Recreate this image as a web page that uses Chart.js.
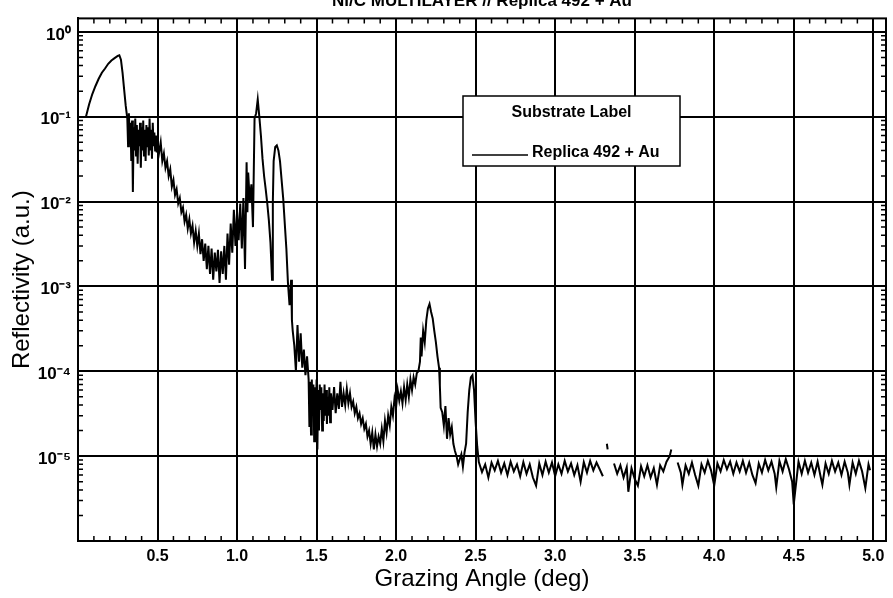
<!DOCTYPE html>
<html>
<head>
<meta charset="utf-8">
<title>Ni/C multilayer reflectivity</title>
<script src="https://cdn.jsdelivr.net/npm/chart.js@4.4.0/dist/chart.umd.min.js"></script>
<style>
  html, body { margin: 0; padding: 0; background: #fff; overflow: hidden; }
  #wrap { position: absolute; left: 0; top: -12px; width: 893px; height: 610px; }
</style>
</head>
<body>
<div id="wrap"><canvas id="chart"></canvas></div>
<script>
// Judul dan label
const chartTitle = 'Ni/C MULTILAYER // Replica 492 + Au';
const seriesLabel = 'Replica 492 + Au';
const legendTitle = 'Substrate Label';
const xTitle = 'Grazing Angle (deg)';
const yTitle = 'Reflectivity (a.u.)';

// Sumbu
const xTicks = [0.5, 1.0, 1.5, 2.0, 2.5, 3.0, 3.5, 4.0, 4.5, 5.0];
const xTickLabels = ['0.5', '1.0', '1.5', '2.0', '2.5', '3.0', '3.5', '4.0', '4.5', '5.0'];
const yTicks = [1e-6, 1e-5, 1e-4, 1e-3, 1e-2, 1e-1, 1];
const yTickLabels = ['', '10⁻⁵', '10⁻⁴', '10⁻³', '10⁻²', '10⁻¹', '10⁰'];

// Sudut (deg)
const angle = [
  // naik sampai sudut kritis
  0.05, 0.07, 0.09, 0.11, 0.13, 0.15, 0.17, 0.19, 0.21, 0.23,
  0.25, 0.26, 0.27, 0.28, 0.29, 0.30, 0.31,
  // dataran berisik
  0.315, 0.32, 0.325, 0.33, 0.335, 0.34, 0.345, 0.35, 0.355, 0.36,
  0.365, 0.37, 0.375, 0.38, 0.385, 0.39, 0.395, 0.40, 0.405, 0.41,
  0.415, 0.42, 0.425, 0.43, 0.435, 0.44, 0.445, 0.45, 0.455, 0.46,
  0.465, 0.47, 0.475, 0.48, 0.485, 0.49, 0.495,
  // turun ke minimum
  0.50, 0.51, 0.52, 0.53, 0.54, 0.55, 0.56, 0.57, 0.58, 0.59,
  0.60, 0.61, 0.62, 0.63, 0.64, 0.65, 0.66, 0.67, 0.68, 0.69,
  0.70, 0.71, 0.72, 0.73, 0.74, 0.75, 0.76, 0.77, 0.78, 0.79,
  0.80, 0.81, 0.82, 0.83, 0.84, 0.85, 0.86, 0.87, 0.88, 0.89,
  0.90, 0.91, 0.92, 0.93, 0.94, 0.95, 0.96, 0.97, 0.98, 0.99,
  1.00, 1.01, 1.02, 1.03, 1.04, 1.05,
  // puncak Bragg 1 dan 2
  1.06, 1.065, 1.07, 1.08, 1.09, 1.10, 1.11, 1.12, 1.13,
  1.14, 1.15, 1.16, 1.17, 1.18, 1.19, 1.20, 1.21, 1.22, 1.225,
  1.23, 1.24, 1.25, 1.26, 1.27, 1.28, 1.29, 1.30, 1.31, 1.32,
  // ekor
  1.33, 1.34, 1.345, 1.35, 1.36, 1.37, 1.38, 1.39, 1.40, 1.41,
  1.42, 1.43, 1.44, 1.45,
  // blok berisik
  1.455, 1.46, 1.465, 1.47, 1.475, 1.48, 1.485, 1.49, 1.495, 1.50,
  1.505, 1.51, 1.515, 1.52, 1.525, 1.53, 1.535, 1.54, 1.545, 1.55,
  1.555, 1.56, 1.565, 1.57, 1.575, 1.58, 1.585, 1.59,
  1.60, 1.61, 1.62, 1.63, 1.64, 1.65, 1.66, 1.67, 1.68, 1.69,
  1.70, 1.71, 1.72, 1.73, 1.74, 1.75, 1.76, 1.77, 1.78, 1.79,
  1.80, 1.81, 1.82, 1.83, 1.84, 1.85, 1.86, 1.87, 1.88, 1.89,
  1.90, 1.91, 1.92, 1.93, 1.94, 1.95, 1.96, 1.97, 1.98, 1.99,
  2.00, 2.01, 2.02, 2.03, 2.04, 2.05, 2.06, 2.07, 2.08, 2.09,
  2.10, 2.11, 2.12, 2.13, 2.14,
  // puncak 3 dan 4
  2.15, 2.155, 2.16, 2.17, 2.18, 2.19, 2.20, 2.21, 2.22, 2.23,
  2.24, 2.25, 2.26, 2.27, 2.275, 2.28, 2.29, 2.30, 2.31, 2.32,
  2.33, 2.34, 2.35, 2.36, 2.37, 2.38, 2.39, 2.40, 2.41, 2.42,
  2.43, 2.44, 2.45, 2.46, 2.47, 2.48, 2.49, 2.50, 2.51,
  // dasar (noise floor)
  2.52, 2.54, 2.56, 2.58, 2.60, 2.62, 2.64, 2.66, 2.68, 2.70,
  2.72, 2.74, 2.76, 2.78, 2.80, 2.82, 2.84, 2.86, 2.88, 2.90,
  2.92, 2.94, 2.96, 2.98, 3.00, 3.02, 3.04, 3.06, 3.08, 3.10,
  3.12, 3.14, 3.16, 3.18, 3.20, 3.22, 3.24, 3.26, 3.28, 3.30,
  3.31, 3.325, 3.33, 3.35, 3.37, 3.39, 3.41, 3.43, 3.45, 3.46,
  3.48, 3.50, 3.52, 3.54, 3.56, 3.58, 3.60, 3.62, 3.64, 3.66,
  3.68, 3.70, 3.72, 3.73, 3.745, 3.77, 3.79, 3.80, 3.82, 3.84,
  3.86, 3.88, 3.90, 3.92, 3.94, 3.96, 3.98, 4.00, 4.02, 4.04,
  4.06, 4.08, 4.10, 4.12, 4.14, 4.16, 4.18, 4.20, 4.22, 4.24,
  4.26, 4.28, 4.30, 4.32, 4.34, 4.36, 4.38, 4.39, 4.41, 4.43,
  4.45, 4.47, 4.49, 4.50, 4.51, 4.53, 4.55, 4.57, 4.59, 4.61,
  4.63, 4.65, 4.67, 4.68, 4.70, 4.72, 4.74, 4.76, 4.78, 4.80,
  4.82, 4.84, 4.85, 4.87, 4.89, 4.91, 4.93, 4.95, 4.97, 4.98
];

// Reflektivitas (a.u.), null = putus
const reflectivity = [
  0.10, 0.14, 0.185, 0.23, 0.28, 0.33, 0.37, 0.42, 0.46, 0.49,
  0.52, 0.53, 0.47, 0.33, 0.21, 0.135, 0.095,

  0.045, 0.11, 0.05, 0.085, 0.03, 0.09, 0.013, 0.075, 0.04, 0.095,
  0.035, 0.08, 0.028, 0.07, 0.045, 0.085, 0.025, 0.075, 0.04, 0.09,
  0.035, 0.07, 0.03, 0.08, 0.045, 0.075, 0.035, 0.095, 0.04, 0.07,
  0.032, 0.085, 0.045, 0.065, 0.04, 0.06, 0.038,

  0.05, 0.038, 0.05, 0.03, 0.037, 0.025, 0.03, 0.02, 0.024, 0.015,
  0.018, 0.012, 0.014, 0.0095, 0.011, 0.0075, 0.0085, 0.0058, 0.007, 0.0048,
  0.0062, 0.0042, 0.0052, 0.0033, 0.0045, 0.003, 0.0042, 0.0024, 0.0036, 0.002,
  0.0032, 0.0016, 0.003, 0.0014, 0.0028, 0.0012, 0.0025, 0.0015, 0.0027, 0.0011,
  0.0026, 0.0014, 0.003, 0.0012, 0.0042, 0.0018, 0.0055, 0.0025, 0.008, 0.003,
  0.0075, 0.0035, 0.0095, 0.0028, 0.011, 0.0016,

  0.029, 0.0075, 0.022, 0.01, 0.016, 0.005, 0.095, 0.11, 0.16,
  0.10, 0.06, 0.032, 0.02, 0.014, 0.0095, 0.006, 0.0033, 0.0012, 0.01,
  0.03, 0.044, 0.046, 0.04, 0.03, 0.018, 0.011, 0.0055, 0.0028, 0.0011,

  6e-4, 1.2e-3, 4e-4, 3e-4, 2e-4, 1e-4, 3.5e-4, 1.3e-4, 2.8e-4, 1.1e-4,
  1.8e-4, 9e-5, 1.5e-4, 8e-5,

  2.2e-5, 7.5e-5, 1.8e-5, 8e-5, 3e-5, 7e-5, 1.5e-5, 6.5e-5, 2.5e-5, 8e-5,
  1.2e-5, 6e-5, 2e-5, 7e-5, 3.5e-5, 6.5e-5, 2e-5, 5.5e-5, 2.6e-5, 7e-5,
  3e-5, 6e-5, 2.4e-5, 5e-5, 3e-5, 6.5e-5, 2.5e-5, 5.5e-5,
  3.5e-5, 6.5e-5, 3.2e-5, 5.5e-5, 3.6e-5, 7.5e-5, 3.8e-5, 5.5e-5, 4e-5, 6.2e-5,
  4.2e-5, 5.5e-5, 3.8e-5, 4.4e-5, 3.2e-5, 3.8e-5, 2.8e-5, 3.2e-5, 2.4e-5, 2.8e-5,
  2.1e-5, 2.4e-5, 1.7e-5, 2e-5, 1.4e-5, 1.9e-5, 1.2e-5, 1.8e-5, 1.3e-5, 1.7e-5,
  1.4e-5, 2.1e-5, 1.5e-5, 2.6e-5, 1.9e-5, 3e-5, 2.3e-5, 3.8e-5, 3e-5, 4.8e-5,
  3.8e-5, 6e-5, 4.5e-5, 5.8e-5, 4.2e-5, 6.5e-5, 4.6e-5, 7e-5, 5e-5, 8e-5,
  6e-5, 8.5e-5, 7e-5, 9.5e-5, 1e-4,

  1.3e-4, 2.5e-4, 1.5e-4, 3e-4, 2.2e-4, 4e-4, 5.5e-4, 6.2e-4, 5e-4, 4.2e-4,
  3e-4, 2.2e-4, 1.5e-4, 1.1e-4, 6.8e-5, 3.7e-5, 3.3e-5, 2.3e-5, 3.9e-5, 1.6e-5,
  2.8e-5, 1.8e-5, 2.2e-5, 1.4e-5, 1.15e-5, 1e-5, 8e-6, 9.2e-6, 1.05e-5, 7.5e-6,
  1.1e-5, 1.4e-5, 3.3e-5, 6e-5, 8.5e-5, 9e-5, 6e-5, 2.5e-5, 1.3e-5,

  8.5e-6, 6.5e-6, 8e-6, 5.6e-6, 8.4e-6, 6.8e-6, 8.8e-6, 6.4e-6, 8.2e-6, 6e-6,
  8.6e-6, 6.6e-6, 8e-6, 5.8e-6, 8.5e-6, 6.2e-6, 8e-6, 5.6e-6, 4.5e-6, 8.2e-6,
  6e-6, 8.6e-6, 6.4e-6, 8.4e-6, 5.8e-6, 8e-6, 6.2e-6, 8.8e-6, 6.6e-6, 8.2e-6,
  6e-6, 7.8e-6, 5e-6, 8.5e-6, 6.4e-6, 8.8e-6, 6.8e-6, 8.4e-6, 7e-6, 5.8e-6,
  null, 1.4e-5, 1.2e-5, null, 8.2e-6, 6.2e-6, 7.8e-6, 5.6e-6, 7.4e-6, 3.8e-6,
  7.2e-6, 5.4e-6, 4.5e-6, 7.6e-6, 5.8e-6, 7.8e-6, 5.6e-6, 7.2e-6, 4.6e-6, 7.8e-6,
  6.6e-6, 8.6e-6, 1e-5, 1.2e-5, null, 8.4e-6, 6.4e-6, 4.6e-6, 7.8e-6, 6.2e-6,
  8.4e-6, 6e-6, 4.5e-6, 8e-6, 6.4e-6, 8.8e-6, 6.8e-6, 4.5e-6, 8.2e-6, 6.6e-6,
  9e-6, 7e-6, 8.6e-6, 6.2e-6, 8.4e-6, 6.6e-6, 8.8e-6, 6.4e-6, 8.4e-6, 6e-6,
  4.8e-6, 8.2e-6, 6.4e-6, 9e-6, 6.8e-6, 8.6e-6, 6.2e-6, 4.3e-6, 8.8e-6, 6.6e-6,
  9.2e-6, 7e-6, 5e-6, 2.7e-6, 4e-6, 8.6e-6, 6.2e-6, 8.8e-6, 6.4e-6, 8.4e-6,
  6e-6, 8.6e-6, 5.6e-6, 4.6e-6, 8.2e-6, 6.2e-6, 8.8e-6, 6.6e-6, 8.4e-6, 6e-6,
  8.6e-6, 6.4e-6, 4.6e-6, 8.4e-6, 6.2e-6, 8.8e-6, 6.6e-6, 4.2e-6, 8e-6, 6.8e-6
];

if (angle.length !== reflectivity.length) {
  console.error('panjang data beda', angle.length, reflectivity.length);
}

const fontFamily = "'Liberation Sans', Arial, Helvetica, sans-serif";

// Bingkai, tick minor, dan kotak legenda
const frameAndLegend = {
  id: 'frameAndLegend',
  afterDraw(chart) {
    const { ctx, chartArea: a, scales: { x, y } } = chart;
    ctx.save();
    ctx.strokeStyle = '#000';
    ctx.lineWidth = 2;
    ctx.strokeRect(a.left, a.top, a.right - a.left, a.bottom - a.top);

    // tick minor
    ctx.lineWidth = 1.5;
    ctx.beginPath();
    for (let i = 1; i <= 50; i++) {
      if (i % 5 === 0) continue;
      const px = x.getPixelForValue(i / 10);
      ctx.moveTo(px, a.bottom); ctx.lineTo(px, a.bottom - 5);
      ctx.moveTo(px, a.top); ctx.lineTo(px, a.top + 5);
    }
    for (let e = -6; e <= 0; e++) {
      for (let m = 2; m <= 9; m++) {
        const v = m * Math.pow(10, e);
        if (v > y.max) continue;
        const py = y.getPixelForValue(v);
        ctx.moveTo(a.left, py); ctx.lineTo(a.left + 5, py);
        ctx.moveTo(a.right, py); ctx.lineTo(a.right - 5, py);
      }
    }
    ctx.stroke();

    // legenda
    const bx = 463, by = 108, bw = 217, bh = 70;
    ctx.fillStyle = '#fff';
    ctx.fillRect(bx, by, bw, bh);
    ctx.lineWidth = 1.5;
    ctx.strokeRect(bx, by, bw, bh);
    ctx.fillStyle = '#000';
    ctx.font = 'bold 16px ' + fontFamily;
    ctx.textAlign = 'center';
    ctx.textBaseline = 'middle';
    ctx.fillText(legendTitle, bx + bw / 2, by + 17);
    ctx.lineWidth = 1.5;
    ctx.beginPath();
    ctx.moveTo(bx + 9, by + 59);
    ctx.lineTo(bx + 65, by + 59);
    ctx.stroke();
    ctx.textAlign = 'left';
    ctx.fillText(chart.data.datasets[0].label, bx + 69, by + 57);
    ctx.restore();
  }
};

const ctx = document.getElementById('chart').getContext('2d');
new Chart(ctx, {
  type: 'line',
  data: {
    datasets: [{
      label: seriesLabel,
      data: angle.map((a, i) => ({ x: a, y: reflectivity[i] })),
      borderColor: '#000',
      borderWidth: 2,
      pointRadius: 0,
      tension: 0,
      spanGaps: false,
      fill: false
    }]
  },
  options: {
    responsive: true,
    maintainAspectRatio: false,
    animation: false,
    devicePixelRatio: 1,
    layout: { padding: { left: 4, right: 7, top: 0, bottom: 0 } },
    scales: {
      x: {
        type: 'linear',
        min: 0,
        max: 5.08,
        afterBuildTicks: s => { s.ticks = xTicks.map(v => ({ value: v })); },
        afterFit: s => { s.height = 57; },
        ticks: {
          autoSkip: false,
          maxRotation: 0,
          padding: 6,
          color: '#000',
          font: { family: fontFamily, size: 16, weight: 'bold' },
          callback: (v, i) => xTickLabels[i]
        },
        grid: { color: '#000', lineWidth: 2, drawTicks: false },
        border: { color: '#000', width: 2 },
        title: {
          display: true,
          text: xTitle,
          color: '#000',
          font: { family: fontFamily, size: 24 },
          padding: { top: 0, bottom: 4 }
        }
      },
      y: {
        type: 'logarithmic',
        min: 1e-6,
        max: 1.44,
        afterBuildTicks: s => { s.ticks = yTicks.map(v => ({ value: v })); },
        afterFit: s => { s.width = 74; },
        ticks: {
          autoSkip: false,
          padding: 7,
          labelOffset: 3,
          color: '#000',
          font: { family: fontFamily, size: 17, weight: 'bold' },
          callback: (v, i) => yTickLabels[i]
        },
        grid: { color: '#000', lineWidth: 2, drawTicks: false },
        border: { color: '#000', width: 2 },
        title: {
          display: true,
          text: yTitle,
          color: '#000',
          font: { family: fontFamily, size: 24 },
          padding: { top: 4, bottom: 0 }
        }
      }
    },
    plugins: {
      legend: { display: false },
      tooltip: { enabled: false },
      title: {
        display: true,
        text: chartTitle,
        fullSize: false,
        color: '#000',
        font: { family: fontFamily, size: 17, weight: 'bold' },
        padding: { top: 3, bottom: 7 }
      }
    }
  },
  plugins: [frameAndLegend]
});
</script>
</body>
</html>
